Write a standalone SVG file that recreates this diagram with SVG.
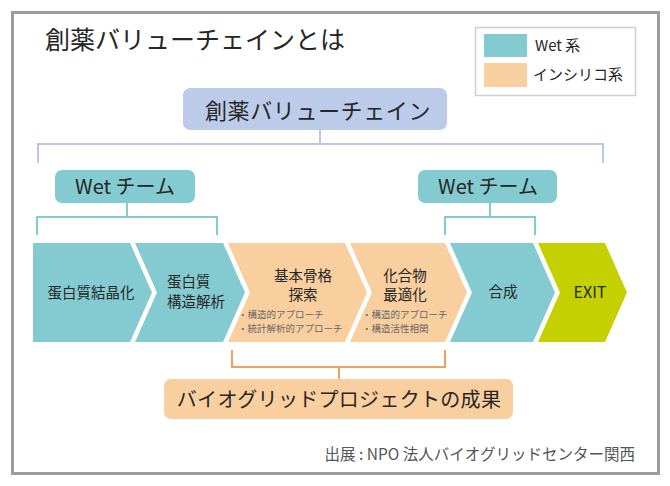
<svg xmlns="http://www.w3.org/2000/svg" width="670" height="486" viewBox="0 0 670 486">
<style>
text{font-family:"Noto Sans CJK JP","Noto Sans",sans-serif;fill:#262626}
.c{text-anchor:middle}
.lbl{font-size:14.5px}
.sub{font-size:9.5px;fill:#666}
.teal{fill:#84cbd1}
.orange{fill:#f9cf9f}
.lime{fill:#c4d000}
.ln{fill:none;stroke-width:2}
</style>
<rect x="12.5" y="12.5" width="646" height="461" fill="#fff" stroke="#9c9c9c" stroke-width="3"/>
<text x="45" y="49" font-size="25">創薬バリューチェインとは</text>
<g id="legend">
<rect x="475.5" y="27.5" width="160" height="68" fill="#fff" stroke="#cfcfcf" stroke-width="1.5"/>
<rect x="484" y="34" width="43" height="23" class="teal"/>
<rect x="484" y="63" width="43" height="24" class="orange"/>
<text x="535" y="51" font-size="15">Wet 系</text>
<text x="533" y="80" font-size="15">インシリコ系</text>
</g>
<g id="connectors">
<path class="ln" stroke="#bcc6e8" d="M320,130V144M38,163V144H603V163"/>
<path class="ln" stroke="#84cbd1" d="M127,203V217M37,235V217H217V235"/>
<path class="ln" stroke="#84cbd1" d="M490,203V217M445,235V217H535V235"/>
<path class="ln" stroke="#f0a060" d="M232,350V367H445V350M339,367V379"/>
</g>
<g id="value-chain">
<rect x="183" y="88" width="264" height="42" rx="7" fill="#bccbea"/>
<text x="318" y="119" font-size="22" class="c" letter-spacing="0.6">創薬バリューチェイン</text>
</g>
<g id="wet-team-1">
<rect x="55" y="170" width="140" height="33" rx="7" class="teal"/>
<text x="125" y="194" font-size="20" class="c">Wet チーム</text>
</g>
<g id="wet-team-2">
<rect x="418" y="170" width="139" height="33" rx="7" class="teal"/>
<text x="488" y="194" font-size="20" class="c">Wet チーム</text>
</g>
<g id="step1">
<path class="teal" d="M33,243H130L152,292.5L130,342H33Z"/>
<text x="91" y="298" class="lbl c">蛋白質結晶化</text>
</g>
<g id="step2">
<path class="teal" d="M135,243H223L245,292.5L223,342H135L157,292.5Z"/>
<text x="167" y="287" class="lbl">蛋白質</text>
<text x="167" y="307" class="lbl">構造解析</text>
</g>
<g id="step3">
<path class="orange" d="M228,243H345L367,292.5L345,342H228L250,292.5Z"/>
<text x="303" y="281" class="lbl c">基本骨格</text>
<text x="303" y="300" class="lbl c">探索</text>
<text x="238" y="318" class="sub">・構造的アプローチ</text>
<text x="238" y="332" class="sub">・統計解析的アプローチ</text>
</g>
<g id="step4">
<path class="orange" d="M350,243H445L467,292.5L445,342H350L372,292.5Z"/>
<text x="405" y="281" class="lbl c">化合物</text>
<text x="405" y="300" class="lbl c">最適化</text>
<text x="362" y="318" class="sub">・構造的アプローチ</text>
<text x="362" y="332" class="sub">・構造活性相関</text>
</g>
<g id="step5">
<path class="teal" d="M450,243H533L555,292.5L533,342H450L472,292.5Z"/>
<text x="503" y="297" class="lbl c">合成</text>
</g>
<g id="step6">
<path class="lime" d="M538,243H605L627,292.5L605,342H538L560,292.5Z"/>
<text x="590" y="298" font-size="16" class="c">EXIT</text>
</g>
<g id="biogrid">
<rect x="164" y="379" width="349" height="40" rx="7" class="orange"/>
<text x="339" y="407" font-size="20" class="c" letter-spacing="0.3">バイオグリッドプロジェクトの成果</text>
</g>
<text x="635" y="460" font-size="15.5" text-anchor="end" style="fill:#555">出展 : NPO 法人バイオグリッドセンター関西</text>
</svg>
